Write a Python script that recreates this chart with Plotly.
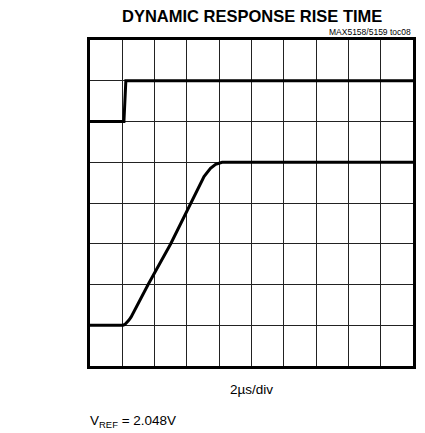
import plotly.graph_objects as go

# Data in divisions (x: 10 div @ 2us/div, y: 8 div)
step_x = [0, 1.05, 1.11, 10]
step_y = [6, 6, 7, 7]

out_x = [0, 1.02, 1.08, 1.14, 1.20, 1.27, 1.80, 2.50, 3.14, 3.32, 3.53, 3.73, 3.89, 4.09, 10]
out_y = [1, 1.00, 1.02, 1.06, 1.12, 1.20, 2.00, 3.00, 4.00, 4.30, 4.65, 4.85, 4.95, 5.00, 5.00]

title_text = "DYNAMIC RESPONSE RISE TIME"
note_text = "MAX5158/5159 toc08"
xlabel_text = "2µs/div"
vref_text = "V<sub>REF</sub> = 2.048V"

FONT = "Liberation Sans, Arial, sans-serif"

fig = go.Figure()
fig.add_trace(go.Scatter(x=step_x, y=step_y, mode="lines",
                         line=dict(color="black", width=3), hoverinfo="skip"))
fig.add_trace(go.Scatter(x=out_x, y=out_y, mode="lines",
                         line=dict(color="black", width=3), hoverinfo="skip"))

axis_common = dict(showgrid=True, gridcolor="#222", gridwidth=1.2,
                   zeroline=False, showticklabels=False, ticks="",
                   showline=True, linecolor="black", linewidth=3, mirror=True,
                   fixedrange=True)
fig.update_xaxes(range=[0, 10], dtick=1, tick0=0, **axis_common)
fig.update_yaxes(range=[0, 8], dtick=1, tick0=0, **axis_common)

fig.add_annotation(text="<b>" + title_text + "</b>", xref="paper", yref="paper",
                   x=0.5, y=1, yshift=24, showarrow=False,
                   font=dict(family=FONT, size=16.5, color="black"),
                   xanchor="center", yanchor="middle")
fig.add_annotation(text=note_text, xref="paper", yref="paper",
                   x=1, y=1, yshift=8, showarrow=False,
                   font=dict(family=FONT, size=8.5, color="black"),
                   xanchor="right", yanchor="middle")
fig.add_annotation(text=xlabel_text, xref="paper", yref="paper",
                   x=0.5, y=0, yshift=-23, showarrow=False,
                   font=dict(family=FONT, size=13.5, color="black"),
                   xanchor="center", yanchor="middle")
fig.add_annotation(text=vref_text, xref="paper", yref="paper",
                   x=0, y=0, xshift=-2, yshift=-55, showarrow=False,
                   font=dict(family=FONT, size=13.5, color="black"),
                   xanchor="left", yanchor="middle")

fig.update_layout(width=425, height=433, showlegend=False,
                  margin=dict(l=90, r=9, t=40, b=67),
                  paper_bgcolor="white", plot_bgcolor="white")

fig.write_html("out.html", config={"displayModeBar": False},
               post_script="document.body.style.margin='0';document.body.style.overflow='hidden';")
